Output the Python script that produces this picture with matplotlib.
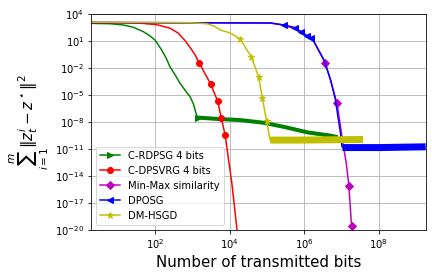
import numpy as np
import matplotlib
matplotlib.use("Agg")
import matplotlib.pyplot as plt
from matplotlib.ticker import NullLocator

# ---------------- data ----------------
# C-RDPSG 4 bits
rdpsg_bits = [2.0, 6.2, 14.1, 26.3, 49, 74, 100, 151, 200, 251, 347, 468, 646, 871,
              1072, 1259, 1380]
rdpsg_err = [851, 776, 562, 309, 100, 33, 12, 0.93, 0.112, 0.0132, 1.58e-3, 1.9e-4,
             3.0e-5, 6.2e-6, 9.5e-7, 8.9e-8, 3.0e-8]
rdpsg_plateau_bits = [1380, 5623, 19055, 81283, 309030, 1.2e6, 5.0e6, 7.9e6]
rdpsg_plateau_err = [3.0e-8, 2.0e-8, 1.6e-8, 7.9e-9, 2.6e-9, 6.9e-10, 3.0e-10, 2.0e-10]

# C-DPSVRG 4 bits
dpsvrg_bits = [2.0, 10, 39.8, 112, 251, 417, 631, 891, 1202, 1549, 3090, 4786, 6026,
               7586, 11482, 15849, 17783]
dpsvrg_err = [1050, 1023, 891, 603, 251, 71, 11.2, 1.58, 0.25, 0.0316, 1.6e-4, 2.0e-6,
              2.5e-8, 3.5e-10, 1.6e-15, 1e-20, 1e-21]
dpsvrg_marks = [9, 10, 11, 12, 13]

# Min-Max similarity
minmax_bits = [2.0, 123027, 295121, 794328, 1.82e6, 3.72e6, 5.37e6, 7.59e6, 8.91e6,
               1.096e7, 1.35e7, 1.585e7, 1.862e7]
minmax_err = [1047, 933, 525, 120, 9.3, 0.034, 2.0e-4, 1.15e-6, 1.6e-8,
              4.2e-11, 2.5e-13, 8.1e-16, 3.0e-20]
minmax_marks = [5, 7, 11, 12]

# DPOSG
dposg_bits = [2.0, 123027, 295121, 575440, 831764, 1.2e6, 1.48e6, 1.82e6, 3.39e6,
              5.13e6, 6.92e6, 8.32e6, 9.33e6, 1.023e7, 1.07e7]
dposg_err = [1047, 933, 562, 282, 87, 36, 18.6, 7.8, 0.072,
             4.4e-4, 2.6e-6, 1.6e-8, 7.4e-10, 2.1e-11, 1.4e-11]
dposg_marks = [2, 3, 4, 5, 6]
dposg_plateau_bits = [1.07e7, 1.07e8, 1.82e9]
dposg_plateau_err = [1.4e-11, 1.4e-11, 1.7e-11]

# DM-HSGD
dmhsgd_bits = [2.0, 468, 1000, 2455, 3981, 5623, 10471, 19055, 38019, 60256, 75858,
               97724, 117490, 123027]
dmhsgd_err = [1122, 1047, 977, 776, 398, 155, 72, 15.5, 0.17, 9.3e-4, 4.1e-6,
              1.4e-8, 2.1e-10, 9.5e-11]
dmhsgd_marks = [7, 8, 9, 10, 11]
dmhsgd_plateau_bits = [123027, 794328, 3.8e7]
dmhsgd_plateau_err = [9.5e-11, 9.5e-11, 1.1e-10]

x_ticks = [1e2, 1e4, 1e6, 1e8]
y_ticks = [1e4, 1e1, 1e-2, 1e-5, 1e-8, 1e-11, 1e-14, 1e-17, 1e-20]

# ---------------- figure ----------------
fig = plt.figure(figsize=(6.0, 277 / 72), dpi=72)
ax = fig.add_axes([0.2113, 0.1697, 0.7741, 0.7808])

ax.plot(rdpsg_bits, rdpsg_err, color='g', marker='>', markevery=[16], lw=1.5,
        ms=6, label='C-RDPSG 4 bits')
ax.plot(rdpsg_plateau_bits, rdpsg_plateau_err, color='g', lw=4,
        solid_capstyle='butt')

ax.plot(dpsvrg_bits, dpsvrg_err, color='r', marker='o', markevery=dpsvrg_marks,
        lw=1.5, ms=6, label='C-DPSVRG 4 bits')

ax.plot(minmax_bits, minmax_err, color='m', marker='D', markevery=minmax_marks,
        lw=1.5, ms=6, label='Min-Max similarity')

ax.plot(dposg_bits, dposg_err, color='b', marker='<', markevery=dposg_marks,
        lw=1.5, ms=6, label='DPOSG')
ax.plot(dposg_plateau_bits, dposg_plateau_err, color='b', lw=7,
        solid_capstyle='butt')

ax.plot(dmhsgd_bits, dmhsgd_err, color='y', marker='*', markevery=dmhsgd_marks,
        lw=1.5, ms=7, label='DM-HSGD')
ax.plot(dmhsgd_plateau_bits, dmhsgd_plateau_err, color='y', lw=7,
        solid_capstyle='butt')

ax.set_xscale('log')
ax.set_yscale('log')
ax.set_xlim(1.95, 1.82e9)
ax.set_ylim(1e-20, 1e4)
ax.set_xticks(x_ticks)
ax.set_yticks(y_ticks)
ax.xaxis.set_minor_locator(NullLocator())
ax.yaxis.set_minor_locator(NullLocator())
ax.tick_params(labelsize=10)
ax.grid(True, color='#b0b0b0', lw=0.8)

ax.set_xlabel('Number of transmitted bits', fontsize=15)
ax.set_ylabel(r'$\sum_{i=1}^{m}\|z_t^i - z^\star\|^2$', fontsize=15)
ax.legend(loc='lower left', fontsize=10)

fig.savefig('out.png', dpi=72)
